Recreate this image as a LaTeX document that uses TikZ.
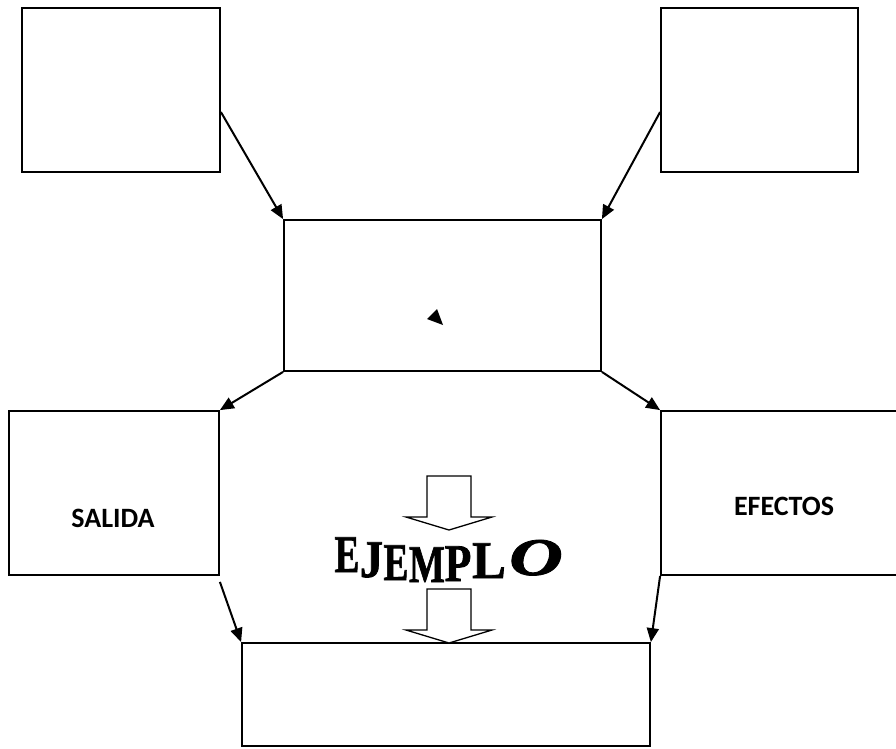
\documentclass[tikz,border=0pt]{standalone}
\usepackage{fontspec}
\setmainfont{Liberation Serif}
\newfontfamily\calib{Carlito}
\newfontfamily\wafont[FakeBold=1.5,ItalicFont={Liberation Serif Bold Italic}]{Liberation Serif Bold}
\usetikzlibrary{arrows.meta,calc}

\begin{document}
\begin{tikzpicture}[x=1pt,y=-1pt,
  bx/.style={draw,line width=1.8pt,minimum width=#1},
  lbl/.style={font=\calib\bfseries\fontsize{28}{30}\selectfont},
  wa/.style={font=\wafont\fontsize{53}{54}\selectfont,anchor=base,inner sep=0pt},
  a/.style={line width=2pt,-{Triangle[length=14pt,width=12pt]}},
  blk/.style={draw,line width=1.3pt,fill=white,line join=miter}]
\useasboundingbox (0,0) rectangle (896,748);
\clip (0,0) rectangle (896,748);
% boxes
\node[bx=198pt,minimum height=164pt] (tl) at (121,90) {};
\node[bx=197pt,minimum height=164pt] (tr) at (759.5,90) {};
\node[bx=317pt,minimum height=151pt] (mid) at (442.5,295.5) {};
\node[bx=210pt,minimum height=164pt] (sal) at (114,493) {};
\node[bx=260pt,minimum height=164pt] (efe) at (791,493) {};
\node[bx=408pt,minimum height=103pt] (bot) at (446,694.5) {};
\node[lbl] (salT) at (113,518) {SALIDA};
\node[lbl] (efeT) at (784,506) {EFECTOS};
% stray tip in the middle box
\fill (427,319) -- (437,309) -- (443,325) -- cycle;
% connectors
\draw[a] ($(tl.east)+(0,22)$) -- (mid.north west);
\draw[a] ($(tr.west)+(0,22)$) -- (mid.north east);
\draw[a] (mid.south west) -- (sal.north east);
\draw[a] (mid.south east) -- (efe.north west);
\draw[a] ($(sal.south east)+(0,6)$) -- (bot.north west);
\draw[a] (efe.south west) -- (bot.north east);
% block arrows
\foreach \t in {476,589}
  \draw[blk] (427,\t) -- (471,\t) -- (471,\t+41) -- (492,\t+41) -- (449,\t+54)
    -- (406,\t+41) -- (427,\t+41) -- cycle;
% word art
\foreach \ch/\x/\y/\sc [count=\i] in {E/347/572/0.7,J/371.5/577/0.88,E/396/580/0.7,
    M/427/582/0.72,P/458/581/0.82,L/489/578/0.95,{\itshape O}/536/575/1.4}
  \node[wa] (e\i) at (\x,\y) {\scalebox{\sc}[1]{\ch}};
\end{tikzpicture}
\end{document}
